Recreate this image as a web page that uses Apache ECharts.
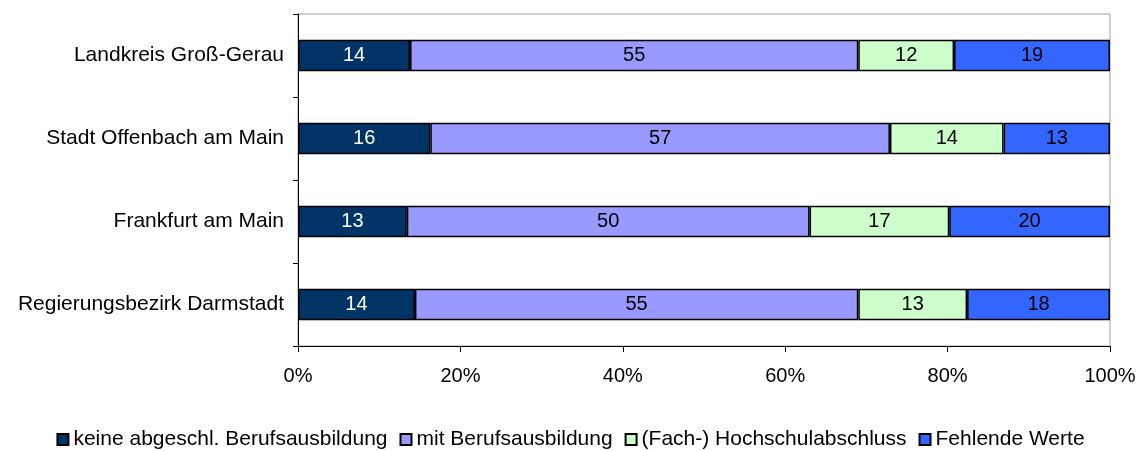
<!DOCTYPE html>
<html>
<head>
<meta charset="utf-8">
<script src="https://cdn.jsdelivr.net/npm/echarts@6/dist/echarts.min.js"></script>
<style>
  html, body { margin: 0; padding: 0; background: #fff; }
  #chart { width: 1141px; height: 451px; }
</style>
</head>
<body>
<div id="chart"></div>
<script>
// categories top to bottom
var regions = ['Landkreis Groß-Gerau', 'Stadt Offenbach am Main', 'Frankfurt am Main', 'Regierungsbezirk Darmstadt']
var seriesNames = ['keine abgeschl. Berufsausbildung', 'mit Berufsausbildung', '(Fach-) Hochschulabschluss', 'Fehlende Werte']
// shares in percent (labels show rounded values)
var keine = [13.8, 16.3, 13.4, 14.4]
var mitAusb = [55.2, 56.6, 49.6, 54.6]
var hochschule = [11.8, 14.0, 17.2, 13.4]
var fehlend = [19.2, 13.1, 19.8, 17.6]
var xTicks = [0, 20, 40, 60, 80, 100]

var colors = ['#003366', '#9999ff', '#ccffcc', '#3366ff']
var labelColors = ['#fff', '#000', '#000', '#000']
var allData = [keine, mitAusb, hochschule, fehlend]

var myChart = echarts.init(document.getElementById('chart'))

var series = seriesNames.map(function (name, i) {
  return {
    name: name,
    type: 'bar',
    stack: 'total',
    barWidth: '38%',
    data: allData[i],
    itemStyle: {
      color: colors[i],
      borderColor: '#000',
      borderWidth: 1.5
    },
    label: {
      show: true,
      position: 'inside',
      color: labelColors[i],
      fontFamily: 'Liberation Sans',
      fontSize: 20,
      formatter: function (p) { return Math.round(p.value) }
    }
  }
})

var option = {
  animation: false,
  textStyle: { fontFamily: 'Liberation Sans' },
  grid: {
    left: 298,
    right: 31,
    top: 14,
    bottom: 105,
    show: true,
    borderColor: '#a0a0a0',
    borderWidth: 1
  },
  legend: {
    top: 424,
    left: 'center',
    itemWidth: 11,
    itemHeight: 11,
    itemGap: 12,
    icon: 'rect',
    textStyle: { fontSize: 21, color: '#000', fontFamily: 'Liberation Sans' },
    data: seriesNames
  },
  xAxis: {
    type: 'value',
    min: xTicks[0],
    max: xTicks[xTicks.length - 1],
    interval: 20,
    axisLine: { show: true, lineStyle: { color: '#000', width: 1 } },
    axisTick: { show: true, length: 6, lineStyle: { color: '#000' } },
    splitLine: { show: false },
    axisLabel: { color: '#000', fontSize: 20, margin: 20, formatter: '{value}%' }
  },
  yAxis: {
    type: 'category',
    inverse: true,
    data: regions,
    axisLine: { show: true, lineStyle: { color: '#000', width: 1 } },
    axisTick: { show: true, length: 5, lineStyle: { color: '#000' } },
    axisLabel: { color: '#000', fontSize: 21, margin: 14 }
  },
  series: series
}

myChart.setOption(option)
window.addEventListener('resize', function () { myChart.resize() })
</script>
</body>
</html>
